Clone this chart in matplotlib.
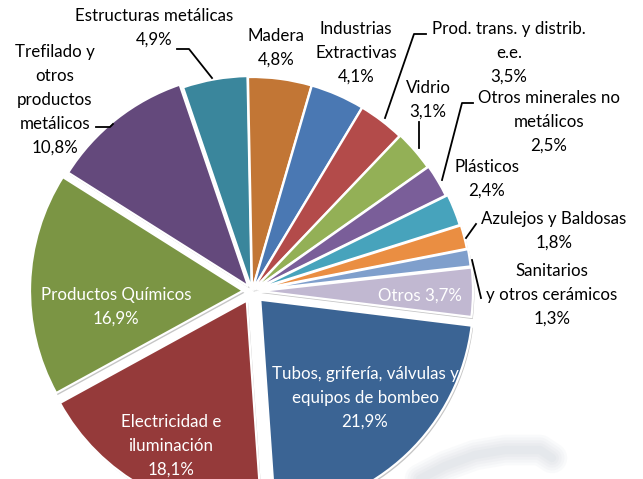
import matplotlib
matplotlib.use('Agg')
import matplotlib.pyplot as plt
import matplotlib.patheffects as pe

plt.rcParams['font.family'] = ['Lato', 'DejaVu Sans']

names = ['Tubos, grifería, válvulas y\nequipos de bombeo', 'Electricidad e\niluminación', 'Productos Químicos',
         'Trefilado y\notros\nproductos\nmetálicos', 'Estructuras metálicas', 'Madera', 'Industrias\nExtractivas',
         'Prod. trans. y distrib.\ne.e.', 'Vidrio', 'Otros minerales no\nmetálicos', 'Plásticos',
         'Azulejos y Baldosas', 'Sanitarios\ny otros cerámicos', 'Otros']
values = [21.9, 18.1, 16.9, 10.8, 4.9, 4.8, 4.1, 3.5, 3.1, 2.5, 2.4, 1.8, 1.3, 3.7]
value_labels = ['21,9%', '18,1%', '16,9%', '10,8%', '4,9%', '4,8%', '4,1%', '3,5%', '3,1%', '2,5%', '2,4%', '1,8%', '1,3%', '3,7%']
colors = ['#3B6494', '#953A3A', '#7B9544', '#64497C', '#3A869C', '#C27635', '#4A78B3',
          '#B34B4A', '#93B056', '#7A5E99', '#47A3BC', '#EA8E42', '#7F9FCC', '#C1B8D1']
# explode is in data units here, so pixels
explode = [12, 11, 9, 6, 2, 1, 1, 1, 2, 3, 5, 6, 7, 8]

# label centres in picture pixels (y from the top)
label_x = [365, 171, 116, 55, 154, 276, 356, 509, 428, 549, 487, 554, 552, 420]
label_y = [398, 446, 307, 100, 28, 48, 53, 53, 100, 122, 179, 231, 295, 296]
label_col = ['white', 'white', 'white', 'black', 'black', 'black', 'black', 'black', 'black', 'black', 'black', 'black', 'black', 'white']

leaders = [[(177, 49), (189, 49), (212, 78)],
           [(96, 127), (110, 127), (113, 124)],
           [(426, 34), (414, 34), (385, 118)],
           [(419, 122), (419, 148)],
           [(473, 103), (462, 103), (442, 180)],
           [(476, 224), (466, 238)],
           [(472, 260), (481, 298)]]

W, H = 643, 479
fig = plt.figure(figsize=(6.43, 4.79), dpi=100)
ax = fig.add_axes([0, 0, 1, 1])

# faint watermark behind the pie, bottom right
for lw in [22, 18, 14, 10, 6]:
    ax.plot([420, 445, 475, 505, 540, 552], [H - 479, H - 466, H - 455, H - 450, H - 450, H - 458],
            color='#9AA3B5', lw=lw, alpha=0.05, solid_capstyle='round', zorder=0)

wedges, _ = ax.pie(values, colors=colors, explode=explode, startangle=-7, counterclock=False,
                   center=(252, H - 291), radius=213, frame=True,
                   wedgeprops=dict(edgecolor='white', linewidth=1.6))
shadow = [pe.SimplePatchShadow(offset=(1, -1.5), shadow_rgbFace='#808080', alpha=0.45), pe.Normal()]
for w in wedges:
    w.set_path_effects(shadow)

for pts in leaders:
    ax.plot([p[0] for p in pts], [H - p[1] for p in pts], color='black', lw=1.3, zorder=5)

for i in range(len(names)):
    sep = ' ' if names[i] == 'Otros' else '\n'
    ax.text(label_x[i], H - label_y[i], names[i] + sep + value_labels[i], color=label_col[i],
            ha='center', va='center', fontsize=12.2, linespacing=1.6, zorder=6)

ax.set_xlim(0, W)
ax.set_ylim(0, H)
ax.axis('off')
fig.savefig('out.png', dpi=100)
